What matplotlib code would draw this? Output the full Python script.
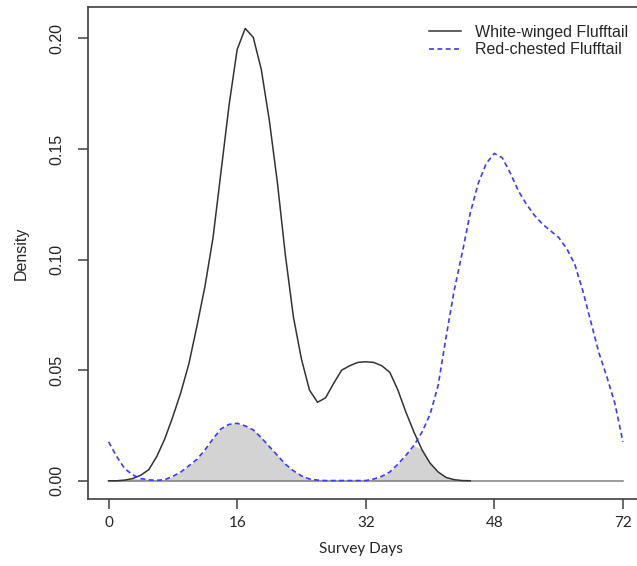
import numpy as np
import matplotlib
matplotlib.use("Agg")
import matplotlib.pyplot as plt

# survey day grid (axis positions) and the printed tick labels
days_ww = np.arange(0, 46)
days_rc = np.arange(0, 65)
tick_pos = [0, 16, 32, 48, 64]
tick_labels = ["0", "16", "32", "48", "72"]
y_ticks = [0.0, 0.05, 0.10, 0.15, 0.20]

series_names = ["White-winged Flufftail", "Red-chested Flufftail"]

# White-winged Flufftail density
ww_density = [
    0.0, 0.0, 0.0003, 0.001, 0.0025, 0.005, 0.011, 0.019, 0.029, 0.040,
    0.053, 0.070, 0.088, 0.110, 0.140, 0.170, 0.195, 0.2045, 0.2005, 0.186,
    0.163, 0.135, 0.102, 0.074, 0.055, 0.041, 0.0355, 0.0375, 0.044, 0.050,
    0.052, 0.0535, 0.0538, 0.0535, 0.052, 0.049, 0.041, 0.031, 0.022, 0.014,
    0.008, 0.004, 0.0015, 0.0005, 0.0001, 0.0,
]

# Red-chested Flufftail density
rc_density = [
    0.0176, 0.011, 0.0055, 0.0027, 0.001, 0.0004, 0.0002, 0.0005, 0.002, 0.004,
    0.0068, 0.0097, 0.014, 0.019, 0.0235, 0.0255, 0.026, 0.0248, 0.023, 0.0195,
    0.0155, 0.0115, 0.0075, 0.0045, 0.0022, 0.0008, 0.0003, 0.0001, 0.0001, 0.0001,
    0.0001, 0.0001, 0.0001, 0.0008, 0.002, 0.004, 0.0075, 0.0115, 0.016, 0.022,
    0.030, 0.043, 0.065, 0.086, 0.103, 0.121, 0.1345, 0.1435, 0.148, 0.146,
    0.139, 0.131, 0.125, 0.120, 0.116, 0.113, 0.110, 0.105, 0.098, 0.086,
    0.072, 0.058, 0.047, 0.035, 0.0176,
]

ww = np.array(ww_density)
rc = np.array(rc_density)

arial = "Liberation Sans"
calibri = "Lato"
txt_col = "#262626"

fig = plt.figure(figsize=(6.37, 5.66), dpi=100)
ax = fig.add_axes([88 / 637, 67 / 566, 555.5 / 637, 492 / 566])

# overlap area shaded grey
overlap = np.minimum(ww, rc[:len(ww)])
ax.fill_between(days_ww, 0, overlap, color="#d3d3d3", linewidth=0, zorder=1)

# baseline
ax.plot([days_rc[0], days_rc[-1]], [0, 0], color="#808080", lw=1.1, zorder=2)

ax.plot(days_ww, ww, color="#333333", lw=1.1, label=series_names[0], zorder=3)
ax.plot(days_rc, rc, color="#3b3bff", lw=1.2, dashes=(3, 2),
        label=series_names[1], zorder=4)

ax.set_xlim(-2.56, 66.56)
ax.set_ylim(-0.00824, 0.2142)

ax.set_xticks(tick_pos)
ax.set_xticklabels(tick_labels, family=calibri, fontsize=11, color=txt_col)
ax.set_yticks(y_ticks)
ax.set_yticklabels([f"{v:.2f}" for v in y_ticks], family=arial, fontsize=11.5,
                   color=txt_col, rotation=90, va="center")

for side in ["left", "bottom", "top", "right"]:
    ax.spines[side].set_color("#404040")
    ax.spines[side].set_linewidth(1.2)
ax.tick_params(axis="both", direction="out", length=7, width=1.1, color="#404040")
ax.tick_params(axis="x", pad=5)
ax.tick_params(axis="y", pad=10)

ax.set_xlabel("Survey Days", family=calibri, fontsize=11, color=txt_col, va="center")
ax.xaxis.set_label_coords((361 - 88) / 555.5, -0.1016)
ax.set_ylabel("Density", family=arial, fontsize=11.5, color=txt_col, va="center")
ax.yaxis.set_label_coords((21 - 88) / 555.5, 0.5)

leg = ax.legend(loc="upper left", bbox_to_anchor=(429 / 637, 1 - 25 / 566),
                bbox_transform=fig.transFigure, frameon=False,
                borderpad=0, borderaxespad=0, handlelength=2.0,
                handletextpad=0.85, labelspacing=0.15,
                prop={"family": arial, "size": 11.5})
for t in leg.get_texts():
    t.set_color(txt_col)

fig.savefig("out.png", dpi=100)
